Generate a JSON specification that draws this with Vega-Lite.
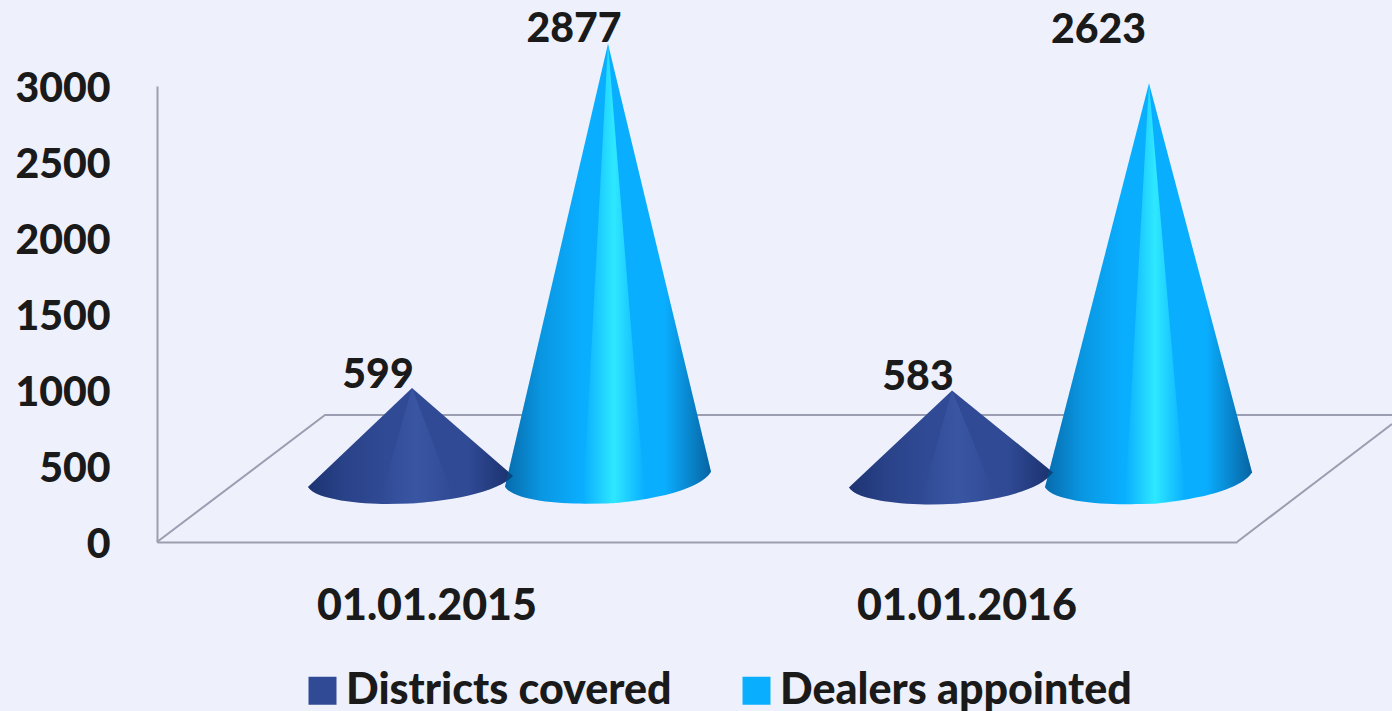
{
"$schema":"https://vega.github.io/schema/vega-lite/v6.json",
"width":1080,"height":456,
"autosize":{"type":"none"},
"padding":{"left":157,"top":86,"right":155,"bottom":169},
"background":"#eef1fb",
"config":{"view":{"stroke":null},"font":"Lato"},
"data":{"values":[
{"date":"01.01.2015","series":"Districts covered","value":599},
{"date":"01.01.2015","series":"Dealers appointed","value":2877},
{"date":"01.01.2016","series":"Districts covered","value":583},
{"date":"01.01.2016","series":"Dealers appointed","value":2623}
]},
"encoding":{
"x":{"field":"date","type":"nominal","title":null,"scale":{"paddingInner":0,"paddingOuter":0},"axis":{"labelAngle":0,"domainColor":"#9b9eb0","domainWidth":2,"ticks":false,"labelFont":"Lato","labelFontWeight":900,"labelFontSize":43,"labelColor":"#1a1a1a","labelPadding":64,"labelBaseline":"middle","labelLimit":500,"grid":false}},
"y":{"field":"value","type":"quantitative","title":null,"scale":{"domain":[0,3000],"nice":false},"axis":{"values":[0,500,1000,1500,2000,2500,3000],"format":"d","domainColor":"#9b9eb0","domainWidth":2,"ticks":false,"grid":false,"labelFont":"Lato","labelFontWeight":900,"labelFontSize":41,"labelColor":"#1a1a1a","labelPadding":47,"labelOffset":3,"labelBaseline":"middle"}}
},
"layer":[
{"transform":[{"filter":"datum.value==599"}],
 "mark":{"type":"point","filled":false,"stroke":"#9b9eb0","strokeWidth":2,"opacity":1,"size":4,"shape":"M-270,0 L-102,-127 L965,-127 M810,0 L965,-118"},
 "encoding":{"y":{"datum":0}}},
{"mark":{"type":"point","filled":true,"opacity":1,"size":4,"strokeWidth":0},
 "encoding":{
  "xOffset":{"field":"series","type":"nominal","sort":["Districts covered","Dealers appointed"],"scale":{"type":"point","padding":0.8776}},
  "color":{"field":"series","type":"nominal","sort":["Districts covered","Dealers appointed"],"scale":{"domain":["Districts covered","Dealers appointed"],"range":["#304a95","#0aaeff"]},
    "legend":{"title":null,"orient":"none","legendX":144,"legendY":583,"direction":"horizontal","columns":2,"symbolType":"square","symbolSize":784,"symbolStrokeWidth":0,"symbolOpacity":1,"labelFont":"Lato","labelFontWeight":900,"labelFontSize":43,"labelColor":"#1a1a1a","labelOffset":2,"columnPadding":63,"padding":0,"labelLimit":500}},
  "shape":{"field":"value","type":"nominal","legend":null,"scale":{"domain":[599,2877,583,2623],"range":[
   "M83,-63 l-104,99 c8,13 54,17 79,17 c55,0 110,-11 126,-28 z",
   "M83,-61 l-103,443 c8,13 48,17 80,17 c58,0 115,-13 126,-32 z",
   "M83,-63 l-103,97 c8,13 54,17 81,17 c55,0 108,-12 123,-32 z",
   "M84,-60 l-104,404 c8,13 50,17 80,17 c58,0 116,-13 127,-32 z"]}}
 }},
{"mark":{"type":"point","filled":true,"opacity":1,"size":4,"strokeWidth":0,"fill":{"gradient":"linear","x1":0,"x2":1,"y1":0,"y2":0,"stops":[{"offset":0,"color":"rgba(5,25,70,0.45)"},{"offset":0.35,"color":"rgba(5,25,70,0.16)"},{"offset":0.75,"color":"rgba(5,25,70,0)"},{"offset":1,"color":"rgba(5,25,70,0)"}]}},
 "encoding":{
  "xOffset":{"field":"series","type":"nominal","sort":["Districts covered","Dealers appointed"],"scale":{"type":"point","padding":0.8776}},
  "shape":{"field":"value","type":"nominal","legend":null,"scale":{"domain":[599,2877,583,2623],"range":[
   "M83,-63 l-104,99 c8,13 54,17 79,17 z",
   "M83,-61 l-103,443 c8,13 48,17 80,17 z",
   "M83,-63 l-103,97 c8,13 54,17 81,17 z",
   "M84,-60 l-104,404 c8,13 50,17 80,17 z"]}}
 }},
{"mark":{"type":"point","filled":true,"opacity":1,"size":4,"strokeWidth":0,"fill":{"gradient":"linear","x1":0,"x2":1,"y1":0,"y2":0,"stops":[{"offset":0,"color":"rgba(5,25,70,0)"},{"offset":0.55,"color":"rgba(5,25,70,0)"},{"offset":1,"color":"rgba(5,25,70,0.5)"}]}},
 "encoding":{
  "xOffset":{"field":"series","type":"nominal","sort":["Districts covered","Dealers appointed"],"scale":{"type":"point","padding":0.8776}},
  "shape":{"field":"value","type":"nominal","legend":null,"scale":{"domain":[599,2877,583,2623],"range":[
   "M83,-63 L135.6,45.4 C158.25,40.5 176,33.5 184,25 z",
   "M83,-61 L140.6,390 C163.5,384.5 180.5,376.5 186,367 z",
   "M83,-63 L137.5,42.5 C159.5,37 176.5,29 184,19 z",
   "M84,-60 L141.1,352.1 C164.25,346.5 181.5,338.5 187,329 z"]}}
 }},
{"transform":[{"filter":"datum.series=='Dealers appointed'"}],
 "mark":{"type":"point","filled":true,"opacity":1,"size":4,"strokeWidth":0,"fill":{"gradient":"linear","x1":0,"x2":1,"y1":0,"y2":0,"stops":[{"offset":0,"color":"rgba(46,232,255,0)"},{"offset":0.5,"color":"rgba(46,232,255,1)"},{"offset":1,"color":"rgba(46,232,255,0)"}]}},
 "encoding":{
  "xOffset":{"field":"series","type":"nominal","sort":["Districts covered","Dealers appointed"],"scale":{"type":"point","padding":0.8776}},
  "shape":{"field":"value","type":"nominal","legend":null,"scale":{"domain":[2877,2623],"range":[
   "M83,-61 L58,399 L88,398.5 L120,395.5 z",
   "M84,-60 L60,361 L90,360.5 L120,357.5 z"]}}
 }},
{"transform":[{"filter":"datum.series=='Districts covered'"}],
 "mark":{"type":"point","filled":true,"opacity":1,"size":4,"strokeWidth":0,"fill":{"gradient":"linear","x1":0,"x2":1,"y1":0,"y2":0,"stops":[{"offset":0,"color":"rgba(70,100,180,0)"},{"offset":0.5,"color":"rgba(70,100,180,0.45)"},{"offset":1,"color":"rgba(70,100,180,0)"}]}},
 "encoding":{
  "xOffset":{"field":"series","type":"nominal","sort":["Districts covered","Dealers appointed"],"scale":{"type":"point","padding":0.8776}},
  "shape":{"field":"value","type":"nominal","legend":null,"scale":{"domain":[599,583],"range":[
   "M83,-63 L50,53 L85,52.8 L125,47 z",
   "M83,-63 L51,51 L88,50.5 L127,44 z"]}}
 }},
{"transform":[{"filter":"datum.value!=2623"}],
 "mark":{"type":"text","font":"Lato","fontWeight":900,"fontSize":41,"color":"#1a1a1a","dx":49,"dy":-75,"baseline":"middle","align":"center"},
 "encoding":{"xOffset":{"field":"series","type":"nominal","sort":["Districts covered","Dealers appointed"],"scale":{"type":"point","padding":0.8776}},"text":{"field":"value","type":"nominal"}}},
{"transform":[{"filter":"datum.value==2623"}],
 "mark":{"type":"text","font":"Lato","fontWeight":900,"fontSize":41,"color":"#1a1a1a","dx":33.5,"dy":-112,"baseline":"middle","align":"center"},
 "encoding":{"xOffset":{"field":"series","type":"nominal","sort":["Districts covered","Dealers appointed"],"scale":{"type":"point","padding":0.8776}},"text":{"field":"value","type":"nominal"}}}
],
"resolve":{"scale":{"shape":"independent"}}
}
